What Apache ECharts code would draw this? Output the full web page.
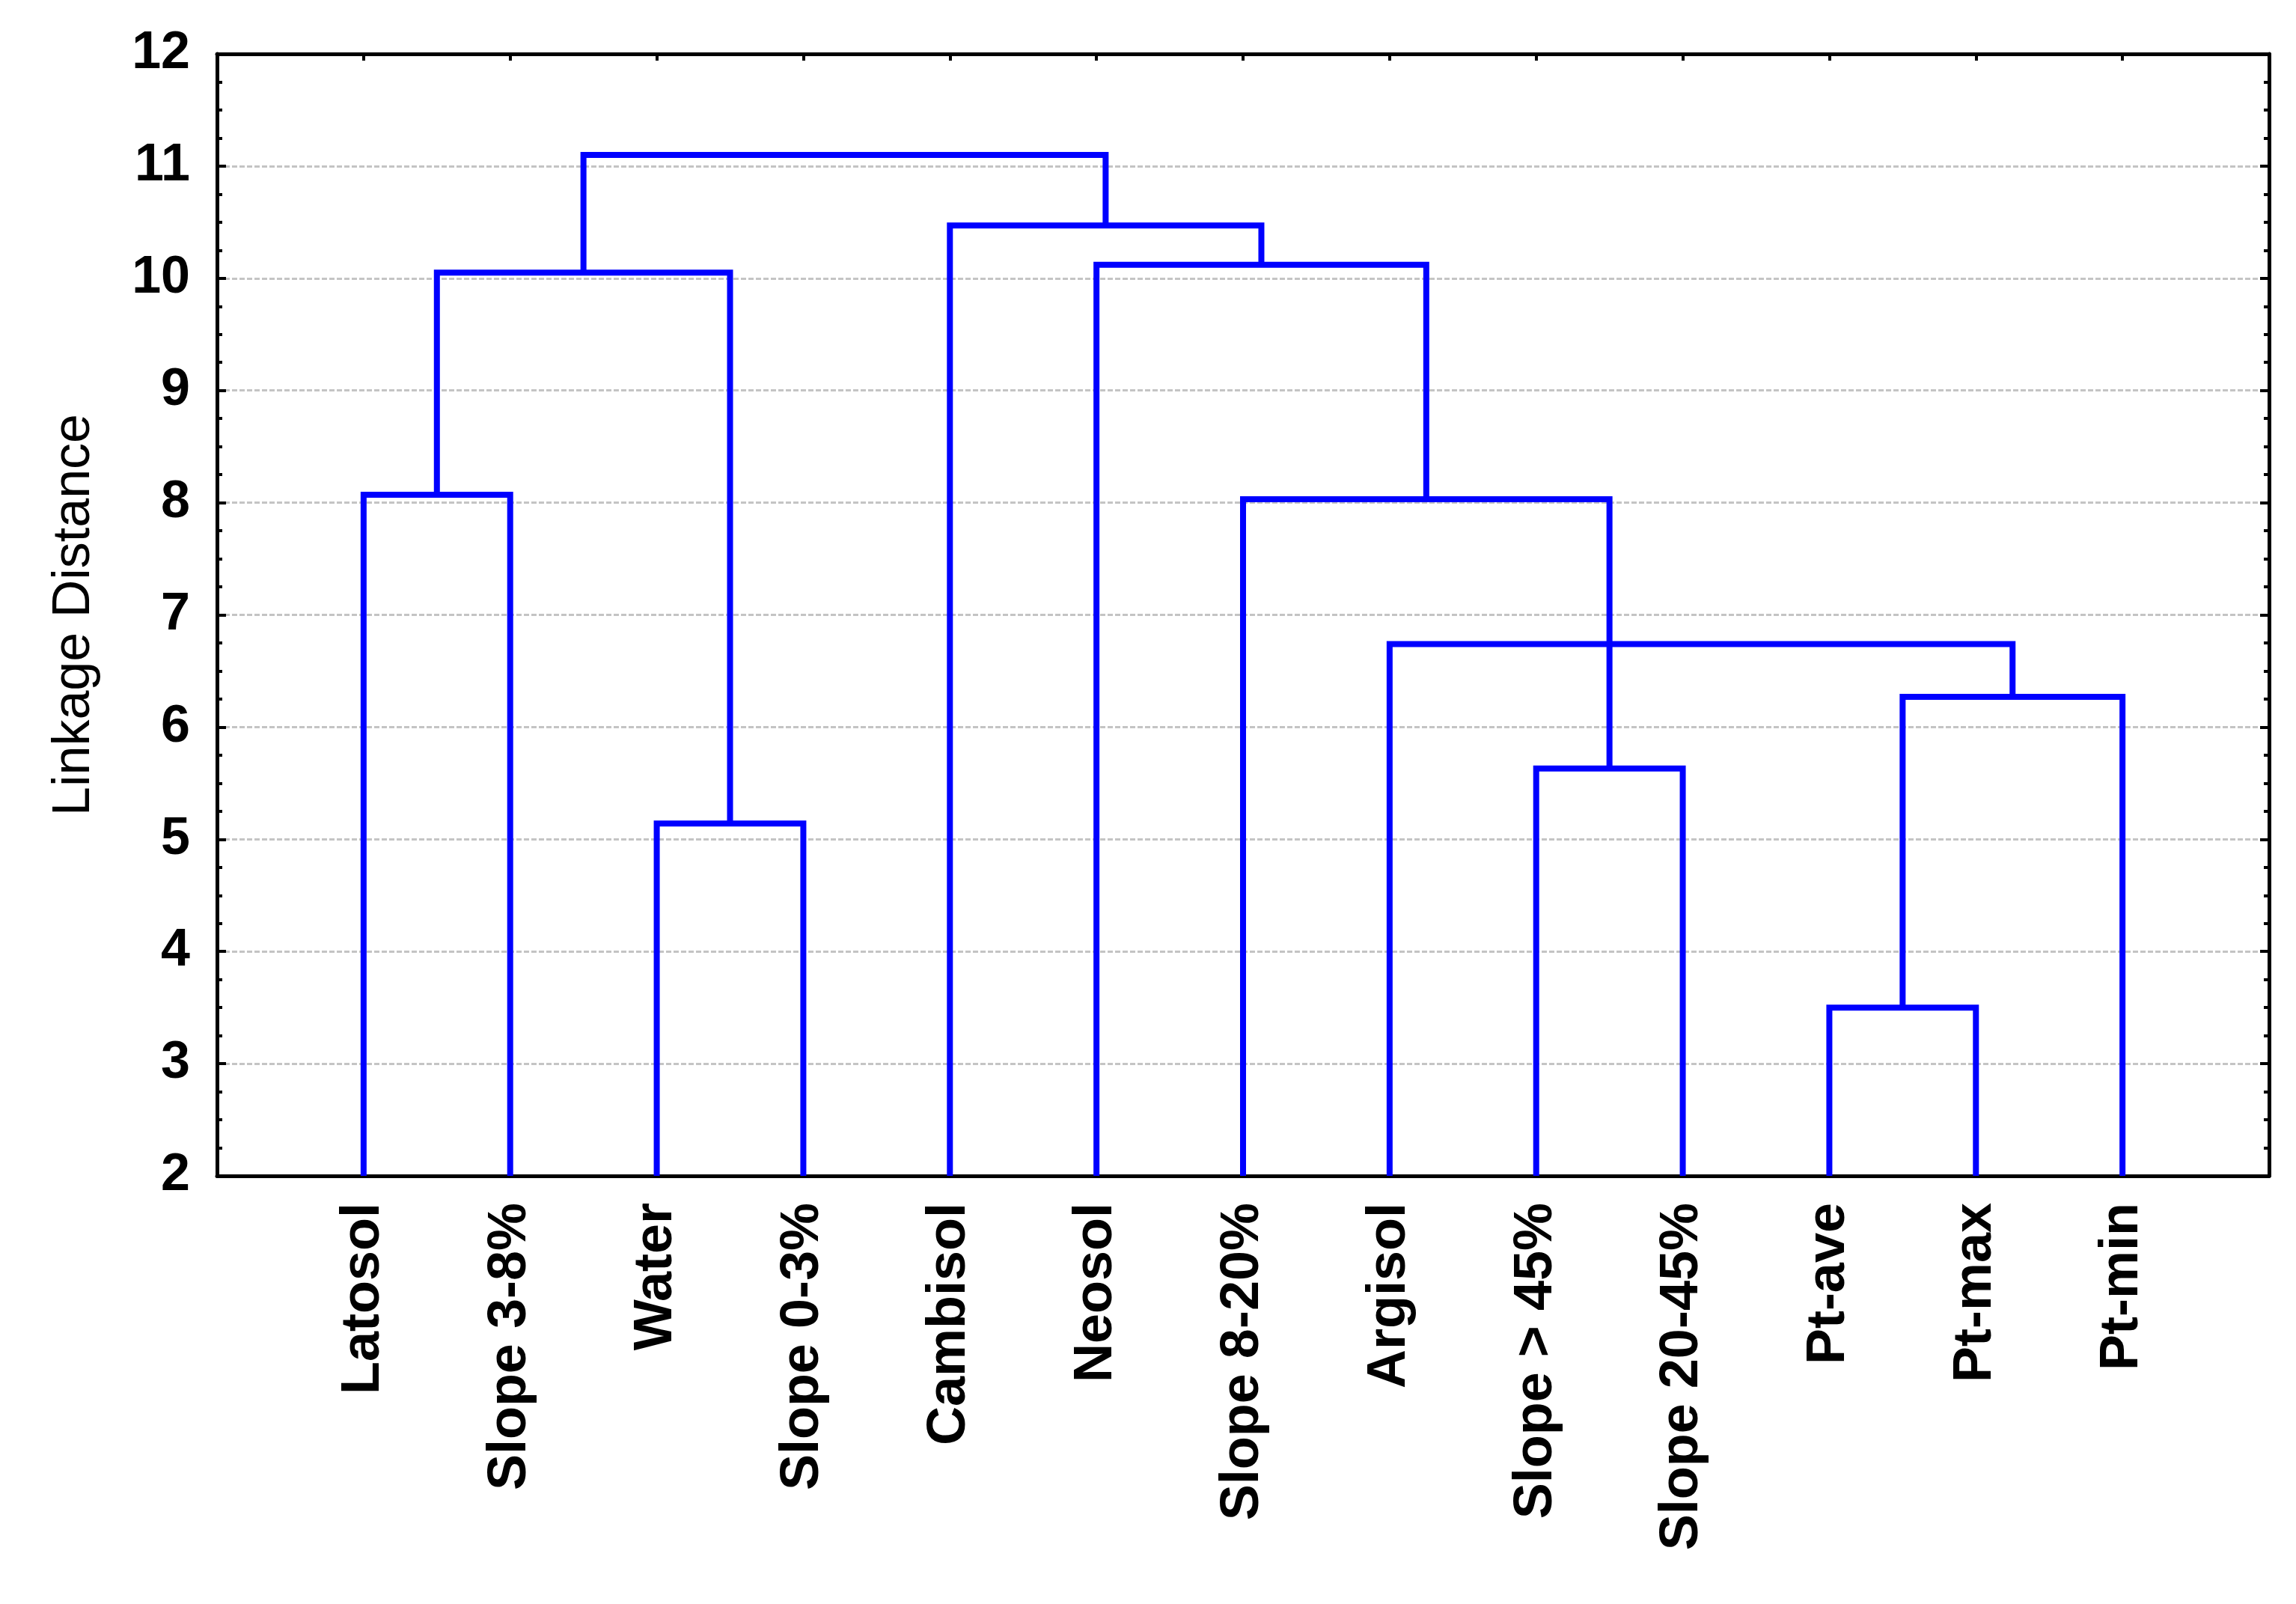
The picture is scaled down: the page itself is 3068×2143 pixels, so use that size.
<!DOCTYPE html>
<html><head><meta charset="utf-8">
<script src="https://cdn.jsdelivr.net/npm/echarts@6/dist/echarts.min.js"></script>
<style>html,body{margin:0;padding:0;background:#fff}#c{width:3068px;height:2143px}</style>
</head><body><div id="c"></div>
<script>
// Leaves (in dendrogram order)
const leaves = ['Latosol','Slope 3-8%','Water','Slope 0-3%','Cambisol','Neosol','Slope 8-20%','Argisol','Slope > 45%','Slope 20-45%','Pt-ave','Pt-max','Pt-min'];
// Merges: children are leaf indices or 'm<k>' (earlier merge k)
const mergeChildren = [[10,11],[2,3],[8,9],['m0',12],[7,'m2','m3'],[6,'m4'],[0,1],['m6','m1'],[5,'m5'],[4,'m8'],['m7','m9']];
const mergeHeights  = [3.50, 5.14, 5.63, 6.27, 6.74, 8.03, 8.07, 10.05, 10.12, 10.47, 11.10];
const yMin = 2, yMax = 12, yStep = 1;
const axisTitle = 'Linkage Distance';

const nodeXs = [];
function resolve(ref){
  if (typeof ref === 'number') return {x: ref, h: yMin};
  const k = +ref.slice(1);
  return {x: nodeXs[k], h: mergeHeights[k]};
}
const mergeData = mergeChildren.map((ch, k) => {
  const pts = ch.map(resolve);
  const xs = pts.map(p => p.x).sort((a,b) => a-b);
  nodeXs[k] = xs.length === 2 ? (xs[0]+xs[1])/2 : xs[1];
  const item = [mergeHeights[k], pts.length];
  pts.forEach(p => item.push(p.x, p.h));
  while (item.length < 8) item.push(0);
  return item;
});

const FONT = '"Liberation Sans", Arial, sans-serif';
const chart = echarts.init(document.getElementById('c'), null, {renderer:'canvas'});
const xCommon = {
  type:'value', min:-1, max:leaves.length, interval:1,
  axisLine:{show:true, onZero:false, lineStyle:{color:'#000', width:5}},
  axisTick:{show:true, inside:true, length:9, lineStyle:{color:'#000', width:4}},
  splitLine:{show:false}
};
const yCommon = {
  type:'value', min:yMin, max:yMax, interval:yStep,
  axisLine:{show:true, onZero:false, lineStyle:{color:'#000', width:5}},
  axisTick:{show:true, inside:true, length:12, lineStyle:{color:'#000', width:4}},
  minorTick:{show:true, splitNumber:4, length:7, lineStyle:{color:'#000', width:4}}
};
chart.setOption({
  animation:false,
  backgroundColor:'#fff',
  grid:{left:290, top:72, width:2742, height:1499, containLabel:false},
  xAxis:[
    Object.assign({}, xCommon, {position:'bottom',
      axisLabel:{show:true, rotate:90, margin:36, color:'#000', fontFamily:FONT, fontWeight:'bold', fontSize:72,
        formatter: v => (Number.isInteger(v) && v >= 0 && v < leaves.length) ? leaves[v] : ''}}),
    Object.assign({}, xCommon, {position:'top', axisLabel:{show:false}})
  ],
  yAxis:[
    Object.assign({}, yCommon, {position:'left',
      name: axisTitle, nameLocation:'middle', nameRotate:90, nameGap:155,
      nameTextStyle:{color:'#000', fontFamily:FONT, fontSize:70},
      axisLabel:{show:true, margin:36, color:'#000', fontFamily:FONT, fontWeight:'bold', fontSize:70},
      splitLine:{show:true, lineStyle:{color:'#c4c4c4', width:3, type:[7,3]}}}),
    Object.assign({}, yCommon, {position:'right', axisLabel:{show:false}, splitLine:{show:false}})
  ],
  series:[{
    type:'custom',
    xAxisIndex:0, yAxisIndex:0,
    data: mergeData,
    renderItem: function(params, api){
      const h = api.value(0), n = api.value(1);
      const kids = [];
      for (let i = 0; i < n; i++) kids.push([api.value(2+2*i), api.value(3+2*i)]);
      kids.sort((a,b) => a[0]-b[0]);
      const style = {stroke:'#0000ff', lineWidth:8, fill:null, lineJoin:'miter', lineCap:'butt'};
      const L = kids[0], R = kids[kids.length-1];
      const children = [{type:'polyline', shape:{points:[api.coord(L), api.coord([L[0],h]), api.coord([R[0],h]), api.coord(R)]}, style}];
      for (let i = 1; i < kids.length-1; i++) {
        const a = api.coord(kids[i]), b = api.coord([kids[i][0], h]);
        children.push({type:'line', shape:{x1:a[0], y1:a[1], x2:b[0], y2:b[1]}, style});
      }
      return {type:'group', children};
    }
  }]
});
</script></body></html>
